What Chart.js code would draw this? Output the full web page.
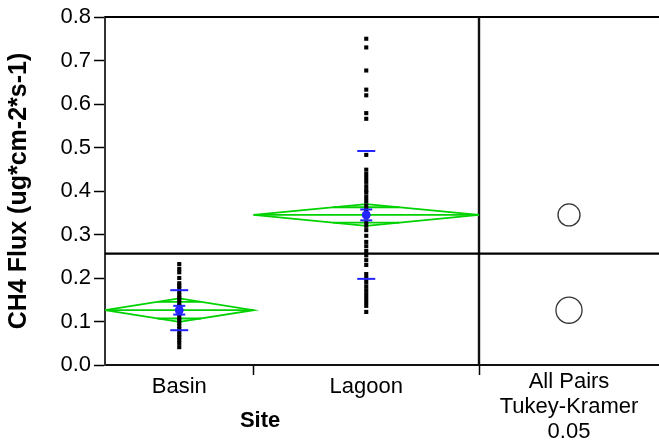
<!DOCTYPE html>
<html><head><meta charset="utf-8">
<script src="https://cdn.jsdelivr.net/npm/chart.js@4.4.1/dist/chart.umd.min.js"></script>
<style>html,body{margin:0;padding:0;background:#fff}#wrap{width:659px;height:444px}</style>
</head><body><div id="wrap"><canvas id="c" width="659" height="444"></canvas></div>
<script>
// ---- data ----
const groupNames = ['Basin', 'Lagoon'];
const compareLabel = ['All Pairs', 'Tukey-Kramer', '0.05'];
const yTickValues = [0, 0.1, 0.2, 0.3, 0.4, 0.5, 0.6, 0.7, 0.8];
const basinFlux = [0.232, 0.221, 0.213, 0.200, 0.188, 0.182, 0.176, 0.168, 0.161, 0.155, 0.150, 0.143, 0.136, 0.130, 0.123, 0.117, 0.110, 0.103, 0.097, 0.090, 0.083, 0.077, 0.070, 0.064, 0.057, 0.050, 0.041];
const lagoonFlux = [0.750, 0.730, 0.677, 0.633, 0.620, 0.579, 0.566, 0.483, 0.449,
  0.439, 0.430, 0.421, 0.411, 0.402,
  0.396, 0.386, 0.377, 0.367, 0.358, 0.348, 0.339, 0.329, 0.320, 0.310,
  0.297,
  0.283, 0.273, 0.262, 0.252, 0.241,
  0.230,
  0.209, 0.200, 0.191, 0.181, 0.172, 0.163, 0.154, 0.145, 0.136,
  0.122];
const groupMeans = [0.126, 0.345];
const ciHalfWidth = [0.027, 0.025];
const sdValues = [0.046, 0.147];
const seValues = [0.010, 0.0125];
const tukeyCircleRadius = [0.030, 0.0253];
const grandMean = 0.256;

// ---- layout helpers ----
const FONT = "'Liberation Sans', Arial, sans-serif";
const GREEN = '#00d200';
const BLUE = '#2424ff';
const series = [basinFlux, lagoonFlux];
const counts = series.map(s => s.length);
const starts = [0, counts[0]];
const ends = [counts[0], counts[0] + counts[1]];
const centers = starts.map((s, i) => (s + ends[i]) / 2);
const groupsEnd = ends[1];
const panelShare = 180 / 554;
const xMax = groupsEnd / (1 - panelShare);
const compareCenter = (groupsEnd + xMax) / 2;
const yTop = yTickValues[yTickValues.length - 1];

const datasets = [];
const lineDs = (data, color, width) => ({
  data, showLine: true, borderColor: color, borderWidth: width, pointRadius: 0, fill: false, clip: false, tension: 0
});

// mean markers (top)
datasets.push({ data: groupMeans.map((m, i) => ({ x: centers[i], y: m })), showLine: false,
  pointStyle: 'circle', pointRadius: 4, pointBackgroundColor: BLUE, pointBorderColor: BLUE, pointBorderWidth: 1 });
// SE ticks
datasets.push({ data: groupMeans.flatMap((m, i) => [{ x: centers[i], y: m + seValues[i] }, { x: centers[i], y: m - seValues[i] }]),
  showLine: false, pointStyle: 'line', pointRadius: 6, pointBorderColor: BLUE, pointBorderWidth: 2 });
// SD ticks
datasets.push({ data: groupMeans.flatMap((m, i) => [{ x: centers[i], y: m + sdValues[i] }, { x: centers[i], y: m - sdValues[i] }]),
  showLine: false, pointStyle: 'line', pointRadius: 9, pointBorderColor: BLUE, pointBorderWidth: 2 });
// raw points
series.forEach((s, i) => datasets.push({ data: s.map(v => ({ x: centers[i], y: v })), showLine: false,
  pointStyle: 'rect', pointRadius: 2.9, pointBackgroundColor: '#000', pointBorderWidth: 0 }));
// means diamonds
groupMeans.forEach((m, i) => {
  const a = starts[i], b = ends[i], c = centers[i], h = ciHalfWidth[i];
  datasets.push(lineDs([{ x: a, y: m }, { x: c, y: m + h }, { x: b, y: m }, { x: c, y: m - h }, { x: a, y: m }], GREEN, 1.8));
  datasets.push(lineDs([{ x: a, y: m }, { x: b, y: m }], GREEN, 1.8));
  const k = 1 / Math.SQRT2, half = (b - a) / 2 * (1 - k);
  datasets.push(lineDs([{ x: c - half, y: m + h * k }, { x: c + half, y: m + h * k }], GREEN, 1.8));
  datasets.push(lineDs([{ x: c - half, y: m - h * k }, { x: c + half, y: m - h * k }], GREEN, 1.8));
});
// Tukey-Kramer comparison circles
datasets.push({ data: groupMeans.map(m => ({ x: compareCenter, y: m })), showLine: false, clip: false,
  pointStyle: 'circle', pointBackgroundColor: 'rgba(0,0,0,0)', pointBorderColor: '#333', pointBorderWidth: 1.3,
  pointRadius: ctx => { const y = ctx.chart.scales.y; return Math.abs(y.getPixelForValue(0) - y.getPixelForValue(tukeyCircleRadius[ctx.dataIndex])); } });
// grand mean line, divider, top frame
datasets.push(lineDs([{ x: 0, y: grandMean }, { x: xMax, y: grandMean }], '#000', 2.4));
datasets.push(lineDs([{ x: groupsEnd, y: 0 }, { x: groupsEnd, y: yTop }], '#111', 2.4));
datasets.push(lineDs([{ x: 0, y: yTop }, { x: xMax, y: yTop }], '#000', 2));

const xTickDefs = [
  { value: centers[0], label: groupNames[0], mark: false },
  { value: ends[0], label: '', mark: true },
  { value: centers[1], label: groupNames[1], mark: false },
  { value: groupsEnd, label: '', mark: true }
];

const siteTitle = {
  id: 'siteTitle',
  afterDraw(chart) {
    const { ctx, chartArea } = chart;
    ctx.save();
    ctx.font = 'bold 22px ' + FONT;
    ctx.fillStyle = '#000';
    ctx.textAlign = 'center';
    ctx.textBaseline = 'middle';
    ctx.fillText('Site', chartArea.left + 0.28 * (chartArea.right - chartArea.left), 421);
    ctx.restore();
  }
};

const noPad = s => { s.paddingLeft = 0; s.paddingRight = 0; };

new Chart(document.getElementById('c'), {
  type: 'scatter',
  data: { datasets },
  plugins: [siteTitle],
  options: {
    responsive: false, animation: false, events: [],
    layout: { autoPadding: false, padding: { top: 17, right: 0, left: 0, bottom: 0 } },
    plugins: { legend: { display: false }, tooltip: { enabled: false } },
    scales: {
      x: {
        type: 'linear', min: 0, max: xMax,
        afterBuildTicks: s => { s.ticks = xTickDefs.map(d => ({ value: d.value })); },
        afterFit: s => { s.height = 79; noPad(s); },
        ticks: { autoSkip: false, maxRotation: 0, minRotation: 0, padding: -1, color: '#000',
          font: { family: FONT, size: 22 },
          callback: (v, i) => xTickDefs[i] ? xTickDefs[i].label : '' },
        grid: { drawOnChartArea: false, tickLength: 10, tickWidth: 1.5,
          tickColor: ctx => (xTickDefs[ctx.index] && xTickDefs[ctx.index].mark) ? '#000' : 'rgba(0,0,0,0)' },
        border: { color: '#111', width: 2 }
      },
      x2: {
        type: 'linear', min: 0, max: xMax, position: { y: 0 },
        afterBuildTicks: s => { s.ticks = [{ value: compareCenter }]; },
        afterFit: noPad,
        ticks: { autoSkip: false, maxRotation: 0, minRotation: 0, padding: 4, color: '#000',
          font: { family: FONT, size: 22, lineHeight: '25px' }, callback: () => compareLabel },
        grid: { display: false, drawTicks: false, drawOnChartArea: false },
        border: { display: false }
      },
      y: {
        min: 0, max: yTop,
        afterBuildTicks: s => { s.ticks = yTickValues.map(v => ({ value: v })); },
        afterFit: s => { s.width = 105; },
        ticks: { color: '#000', padding: 3, font: { family: FONT, size: 22 }, callback: v => v.toFixed(1) },
        grid: { drawOnChartArea: false, tickLength: 11, tickWidth: 1.5, tickColor: '#000' },
        border: { color: '#333', width: 2 },
        title: { display: true, text: 'CH4 Flux (ug*cm-2*s-1)', color: '#000',
          font: { family: FONT, size: 25, weight: 'bold' }, padding: { top: 4, bottom: 0 } }
      }
    }
  }
});
</script></body></html>
